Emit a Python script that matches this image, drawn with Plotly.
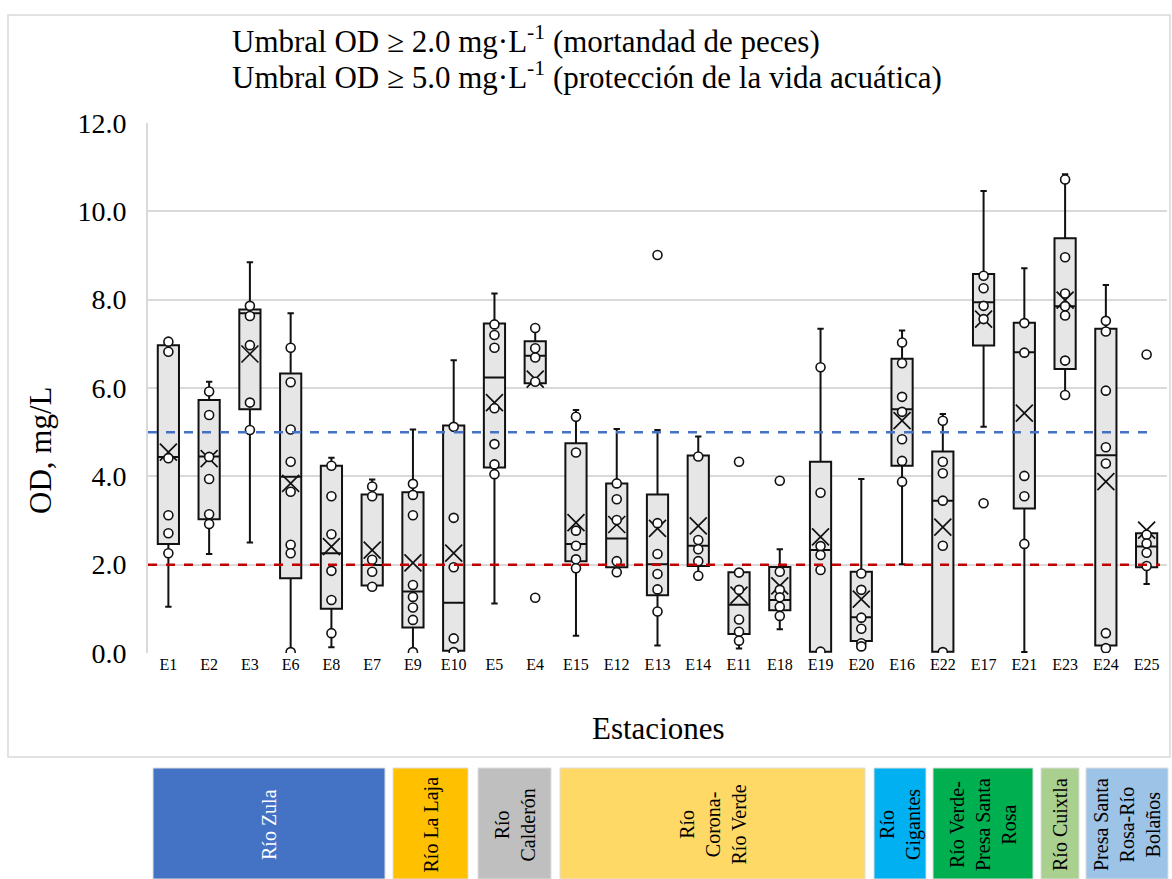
import plotly.graph_objects as go

stations = ["E1", "E2", "E3", "E6", "E8", "E7", "E9", "E10", "E5", "E4", "E15", "E12", "E13",
            "E14", "E11", "E18", "E19", "E20", "E16", "E22", "E17", "E21", "E23", "E24", "E25"]

q1 = [2.47, 3.03, 5.52, 1.69, 1.00, 1.53, 0.58, 0.05, 4.20, 6.11, 2.08, 1.94, 1.31,
      1.97, 0.43, 0.97, 0.03, 0.27, 4.24, 0.03, 6.96, 3.27, 6.43, 0.17, 1.94]
median = [4.44, 4.45, 7.69, 3.99, 2.26, 1.99, 1.39, 1.14, 6.24, 6.73, 2.47, 2.59, 2.01,
          2.43, 1.09, 1.20, 2.33, 0.81, 5.52, 3.45, 7.94, 6.81, 7.85, 4.48, 2.41]
q3 = [6.97, 5.73, 7.78, 6.33, 4.24, 3.59, 3.64, 5.15, 7.46, 7.06, 4.75, 3.84, 3.59,
      4.47, 1.83, 1.95, 4.33, 1.84, 6.66, 4.56, 8.58, 7.48, 9.39, 7.34, 2.71]
lower = [1.05, 2.24, 2.50, 0.02, 0.13, 1.50, 0.02, 0.03, 1.12, 6.11, 0.39, 1.83, 0.17,
         1.67, 0.10, 0.54, 0.03, 0.15, 2.01, 0.03, 5.12, 0.02, 5.84, 0.11, 1.56]
upper = [7.05, 6.14, 8.85, 7.69, 4.42, 3.93, 5.06, 6.63, 8.14, 7.36, 5.50, 5.07, 5.05,
         4.90, 1.83, 2.35, 7.34, 3.94, 7.30, 5.41, 10.46, 8.71, 10.84, 8.33, 2.71]
mean = [4.55, 4.40, 6.77, 3.84, 2.41, 2.33, 2.04, 2.26, 5.67, 6.20, 2.95, 2.91, 2.82,
        2.88, 1.31, 1.52, 2.63, 1.22, 5.26, 2.85, 7.56, 5.43, 7.99, 3.88, 2.78]

points = [
    [7.05, 6.82, 4.41, 3.12, 2.71, 2.26],          # E1
    [5.92, 5.39, 4.44, 3.94, 3.14, 2.92],          # E2
    [7.86, 7.63, 6.97, 5.67, 5.05],                # E3
    [6.91, 6.13, 5.06, 4.33, 3.65, 2.45, 2.26, 0.02],  # E6
    [4.24, 3.55, 2.69, 1.86, 1.20, 0.45],          # E8
    [3.77, 3.55, 2.11, 1.84, 1.50],                # E7
    [3.83, 3.58, 3.12, 1.54, 1.27, 1.03, 0.75, 0.02],  # E9
    [5.12, 3.06, 1.94, 0.33, 0.02],                # E10
    [7.44, 7.20, 6.91, 5.54, 4.73, 4.27, 4.05],    # E5
    [7.36, 6.90, 6.69, 6.14, 1.25],                # E4
    [5.35, 4.54, 2.77, 2.43, 2.12, 1.92],          # E15
    [3.84, 3.48, 3.01, 2.08, 1.83],                # E12
    [9.01, 2.94, 2.24, 1.79, 1.44, 0.94],          # E13
    [4.45, 2.56, 2.35, 2.08, 1.75],                # E14
    [4.33, 1.82, 1.43, 0.76, 0.48, 0.28],          # E11
    [3.90, 1.84, 1.43, 1.26, 1.05, 0.84],          # E18
    [6.47, 3.63, 2.42, 2.22, 1.88, 0.03],          # E19
    [1.80, 1.43, 0.80, 0.55, 0.22, 0.15],          # E20
    [7.03, 6.56, 5.80, 5.46, 4.84, 4.35, 3.88],    # E16
    [5.26, 4.33, 4.07, 3.45, 2.43, 0.02],          # E22
    [8.54, 8.26, 7.86, 7.56, 3.39],                # E17
    [7.47, 6.80, 4.01, 3.55, 2.47],                # E21
    [10.72, 8.96, 8.14, 7.85, 7.64, 6.62, 5.84],   # E23
    [7.52, 7.28, 5.94, 4.66, 4.29, 0.45, 0.11],    # E24
    [6.76, 2.68, 2.48, 2.27, 1.97],                # E25
]

threshold_fish = 2.0
threshold_life = 5.0

y_ticks = [0, 2, 4, 6, 8, 10, 12]
y_tick_labels = ["0.0", "2.0", "4.0", "6.0", "8.0", "10.0", "12.0"]

rivers = ["Río Zula", "Río La Laja", "Río<br>Calderón", "Río<br>Corona-<br>Río Verde",
          "Río<br>Gigantes", "Río Verde-<br>Presa Santa<br>Rosa", "Río Cuixtla",
          "Presa Santa<br>Rosa-Río<br>Bolaños"]
river_colors = ["#4472C4", "#FFC000", "#BFBFBF", "#FFD966", "#00B0F0", "#00B050", "#A9D08E", "#9DC3E6"]
river_text_colors = ["white", "black", "black", "black", "black", "black", "black", "black"]
river_px = [(153, 385), (393, 468), (478, 551), (560, 865), (874, 926), (933, 1033), (1041, 1079), (1086, 1168)]

FONT = "Liberation Serif, Times New Roman, serif"
W, H = 1172, 879
PL, PR, PT, PB = 148, 1167, 123, 653


def pxx(x):
    return (x - PL) / (PR - PL)


def pxy(y):
    return (PB - y) / (PB - PT)


fig = go.Figure()

fig.add_trace(go.Box(
    x=stations, q1=q1, median=median, q3=q3, lowerfence=lower, upperfence=upper,
    fillcolor="#E7E6E6", line=dict(color="#111111", width=2), width=0.52,
    whiskerwidth=0.3, boxpoints=False, showlegend=False, hoverinfo="skip",
))

px_x, px_y = [], []
for s, pts in zip(stations, points):
    for v in pts:
        px_x.append(s)
        px_y.append(v)

fig.add_trace(go.Scatter(
    x=stations, y=mean, mode="markers", showlegend=False,
    marker=dict(symbol="x-thin-open", size=17, color="#111111", line=dict(color="#111111", width=1.7)),
))
fig.add_trace(go.Scatter(
    x=px_x, y=px_y, mode="markers", showlegend=False,
    marker=dict(symbol="circle", size=9, color="white", line=dict(color="#111111", width=1.6)),
))

shapes = [
    dict(type="line", xref="paper", yref="y", x0=0, x1=pxx(1160), y0=threshold_fish, y1=threshold_fish,
         line=dict(color="#C00000", width=2.5, dash="dash"), layer="above"),
    dict(type="line", xref="paper", yref="y", x0=0, x1=pxx(1156), y0=threshold_life, y1=threshold_life,
         line=dict(color="#4472C4", width=2.5, dash="dash"), layer="above"),
    dict(type="rect", xref="paper", yref="paper", x0=pxx(8), x1=pxx(1170), y0=pxy(757), y1=pxy(15),
         line=dict(color="#D9D9D9", width=1.5), fillcolor="rgba(0,0,0,0)", layer="below"),
]
annotations = []
for name, col, tcol, (x0, x1) in zip(rivers, river_colors, river_text_colors, river_px):
    shapes.append(dict(type="rect", xref="paper", yref="paper", x0=pxx(x0), x1=pxx(x1),
                       y0=pxy(879), y1=pxy(768), fillcolor=col, line=dict(color="#dddddd", width=1)))
    annotations.append(dict(xref="paper", yref="paper", x=pxx((x0 + x1) / 2), y=pxy(825),
                            xanchor="center", yanchor="middle",
                            text=name, textangle=-90, showarrow=False,
                            font=dict(family=FONT, size=20, color=tcol)))

annotations += [
    dict(xref="paper", yref="paper", x=pxx(230), y=pxy(40), xanchor="left", yanchor="middle",
         text="Umbral OD ≥ 2.0 mg·L<sup>-1</sup> (mortandad de peces)", showarrow=False,
         font=dict(family=FONT, size=31, color="black")),
    dict(xref="paper", yref="paper", x=pxx(230), y=pxy(75), xanchor="left", yanchor="middle",
         text="Umbral OD ≥ 5.0 mg·L<sup>-1</sup> (protección de la vida acuática)", showarrow=False,
         font=dict(family=FONT, size=31, color="black")),
    dict(xref="paper", yref="paper", x=pxx(40), y=pxy(451), xanchor="center", yanchor="middle",
         text="OD, mg/L", textangle=-90, showarrow=False, font=dict(family=FONT, size=31, color="black")),
    dict(xref="paper", yref="paper", x=pxx(658), y=pxy(728), xanchor="center", yanchor="middle",
         text="Estaciones", showarrow=False, font=dict(family=FONT, size=31, color="black")),
]

fig.update_layout(
    width=W, height=H, margin=dict(l=PL, r=W - PR, t=PT, b=H - PB),
    paper_bgcolor="white", plot_bgcolor="white",
    shapes=shapes, annotations=annotations, showlegend=False,
    font=dict(family=FONT, color="black"),
)
fig.update_xaxes(type="category", categoryorder="array", categoryarray=stations,
                 range=[-0.5, len(stations) - 0.5],
                 showgrid=False, showline=False, ticks="", tickfont=dict(family=FONT, size=16))
fig.update_yaxes(range=[0, 12], tickvals=y_ticks, ticktext=y_tick_labels, showgrid=True,
                 gridcolor="#D9D9D9", gridwidth=2, zeroline=False, showline=True,
                 linecolor="#D9D9D9", linewidth=2, ticks="", ticklabelstandoff=14,
                 tickfont=dict(family=FONT, size=28))

fig.write_html("out.html")
